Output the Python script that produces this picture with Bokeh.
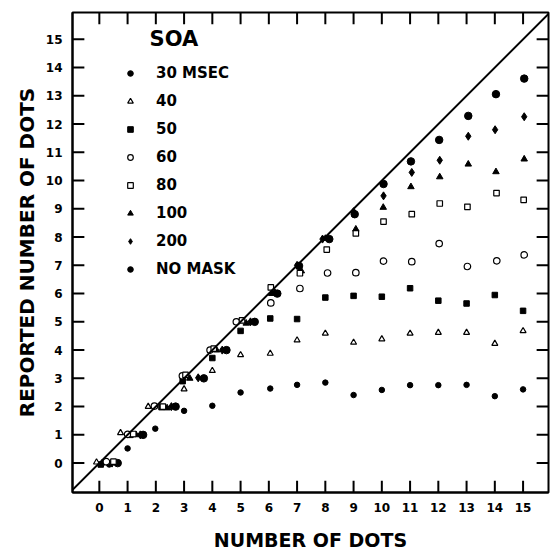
from bokeh.plotting import figure
from bokeh.models import Range1d, LinearAxis, FixedTicker, Slope, Legend, LegendItem, Label, ColumnDataSource
from bokeh.embed import file_html
from bokeh.resources import INLINE

# ---- data ----
ticks = list(range(16))

x_30 = [0.35, 1.0, 1.98, 3.0, 4.0, 5.0, 6.05, 7, 8, 9, 10, 11, 12, 13, 14, 15]
y_30 = [-0.05, 0.52, 1.22, 1.85, 2.03, 2.5, 2.64, 2.77, 2.85, 2.41, 2.59, 2.76, 2.76, 2.77, 2.37, 2.61]

x_40 = [-0.1, 0.75, 1.73, 3.0, 4.0, 5.0, 6.05, 7, 8, 9, 10, 11, 12, 13, 14, 15]
y_40 = [0.03, 1.07, 2.0, 2.62, 3.27, 3.83, 3.88, 4.35, 4.59, 4.27, 4.39, 4.59, 4.62, 4.62, 4.23, 4.68]

x_50 = [0.05, 1.1, 2.2, 2.95, 4.0, 5.0, 6.05, 7, 8, 9, 10, 11, 12, 13, 14, 15]
y_50 = [-0.05, 1.0, 1.98, 2.9, 3.72, 4.68, 5.12, 5.1, 5.86, 5.92, 5.89, 6.19, 5.75, 5.65, 5.95, 5.39]

x_60 = [0.25, 1.0, 1.95, 2.94, 3.92, 4.85, 6.07, 7.1, 8.08, 9.08, 10.06, 11.06, 12.03, 13.03, 14.07, 15.04]
y_60 = [0.05, 1.02, 2.02, 3.09, 4.0, 5.0, 5.67, 6.18, 6.73, 6.74, 7.15, 7.13, 7.77, 6.96, 7.16, 7.37]

x_80 = [0.5, 1.2, 2.25, 3.05, 4.05, 5.05, 6.07, 7.1, 8.05, 9.08, 10.06, 11.06, 12.05, 13.03, 14.06, 15.02]
y_80 = [0.05, 1.03, 2.0, 3.12, 4.05, 5.05, 6.22, 6.72, 7.56, 8.13, 8.55, 8.81, 9.19, 9.07, 9.56, 9.32]

x_100 = [0.1, 1.3, 2.4, 3.2, 4.15, 5.2, 6.1, 7.15, 8.0, 9.08, 10.05, 11.03, 12.05, 13.06, 14.04, 15.04]
y_100 = [0.0, 1.0, 1.95, 3.0, 4.0, 4.95, 6.0, 6.8, 7.95, 8.28, 9.05, 9.78, 10.13, 10.58, 10.31, 10.76]

x_200 = [0.45, 1.45, 2.55, 3.5, 4.35, 5.35, 6.2, 7.0, 7.9, 9.0, 10.06, 11.06, 12.05, 13.06, 14.01, 15.04]
y_200 = [0.0, 1.0, 2.0, 3.02, 4.0, 5.0, 6.05, 7.0, 7.93, 8.9, 9.46, 10.29, 10.72, 11.57, 11.8, 12.26]

x_nm = [0.65, 1.55, 2.7, 3.7, 4.5, 5.5, 6.3, 7.07, 8.14, 9.04, 10.06, 11.03, 12.03, 13.06, 14.04, 15.04]
y_nm = [0.0, 1.0, 2.0, 3.0, 4.0, 5.0, 6.0, 6.98, 7.93, 8.81, 9.88, 10.68, 11.44, 12.29, 13.06, 13.61]

labels = ["30 MSEC", "40", "50", "60", "80", "100", "200", "NO MASK"]

FONT = "DejaVu Sans"
X0, X1 = -0.95, 15.9
Y0, Y1 = -1.04, 15.95
TL = 0.42  # inward tick length in data units (~12 px)

p = figure(width=550, height=553,
           x_range=Range1d(X0, X1), y_range=Range1d(Y0, Y1),
           output_backend="svg", toolbar_location=None,
           min_border_left=72, min_border_top=12, min_border_right=2, min_border_bottom=61,
           x_axis_location=None, y_axis_location=None)
p.grid.visible = False
p.outline_line_color = "black"
p.outline_line_width = 2
p.background_fill_color = "white"
p.border_fill_color = "white"

def style_axis(ax):
    ax.ticker = FixedTicker(ticks=ticks)
    ax.major_tick_in = 0
    ax.major_tick_out = 0
    ax.minor_tick_line_color = None
    ax.axis_line_width = 2
    ax.axis_line_color = "black"
    ax.major_label_text_font = FONT
    ax.major_label_text_font_style = "bold"
    ax.major_label_text_font_size = "12px"
    ax.major_label_text_color = "black"
    ax.major_label_standoff = 10
    ax.axis_label_text_font = FONT
    ax.axis_label_text_font_style = "bold"
    ax.axis_label_text_color = "black"

xb = LinearAxis(axis_label="NUMBER OF DOTS")
style_axis(xb)
xb.axis_label_text_font_size = "19px"
xb.axis_label_standoff = 14
p.add_layout(xb, "below")

yl = LinearAxis(axis_label="REPORTED NUMBER OF DOTS")
style_axis(yl)
yl.axis_label_text_font_size = "20px"
yl.axis_label_standoff = 4
p.add_layout(yl, "left")

# inward tick marks on all four sides of the frame
n = len(ticks)
p.segment(x0=ticks, y0=[Y0] * n, x1=ticks, y1=[Y0 + TL] * n, line_color="black", line_width=2)
p.segment(x0=ticks, y0=[Y1] * n, x1=ticks, y1=[Y1 - TL] * n, line_color="black", line_width=2)
p.segment(x0=[X0] * n, y0=ticks, x1=[X0 + TL] * n, y1=ticks, line_color="black", line_width=2)
p.segment(x0=[X1] * n, y0=ticks, x1=[X1 - TL] * n, y1=ticks, line_color="black", line_width=2)

p.add_layout(Slope(gradient=1, y_intercept=0, line_color="black", line_width=2))

def src(x, y):
    return ColumnDataSource(dict(x=x, y=y))

# filled markers first, open markers on top
r_nm = p.scatter("x", "y", source=src(x_nm, y_nm), marker="circle", size=7.5,
                 fill_color="black", line_color="black")
r_200 = p.scatter("x", "y", source=src(x_200, y_200), marker="diamond", size=8,
                  fill_color="black", line_color="black")
r_100 = p.scatter("x", "y", source=src(x_100, y_100), marker="triangle", size=6.5,
                  fill_color="black", line_color="black")
r_50 = p.scatter("x", "y", source=src(x_50, y_50), marker="square", size=5.5,
                 fill_color="black", line_color="black")
r_30 = p.scatter("x", "y", source=src(x_30, y_30), marker="circle", size=5.5,
                 fill_color="black", line_color="black")
r_40 = p.scatter("x", "y", source=src(x_40, y_40), marker="triangle", size=6,
                 fill_color="white", line_color="black", line_width=1.2)
r_60 = p.scatter("x", "y", source=src(x_60, y_60), marker="circle", size=6.5,
                 fill_color="white", line_color="black", line_width=1.2)
r_80 = p.scatter("x", "y", source=src(x_80, y_80), marker="square", size=5.5,
                 fill_color="white", line_color="black", line_width=1.2)

renderers = [r_30, r_40, r_50, r_60, r_80, r_100, r_200, r_nm]
items = [LegendItem(label=lab, renderers=[r]) for lab, r in zip(labels, renderers)]
legend = Legend(items=items, location=(51, 213), orientation="vertical",
                border_line_color=None, background_fill_color=None, background_fill_alpha=0,
                padding=0, margin=0, spacing=8,
                glyph_width=14, glyph_height=14, label_height=20, label_standoff=19,
                label_text_font=FONT, label_text_font_style="bold",
                label_text_font_size="15px", label_text_color="black")
p.add_layout(legend)

p.add_layout(Label(x=2.64, y=15.02, text="SOA", text_align="center", text_baseline="middle",
                   text_font=FONT, text_font_style="bold", text_font_size="21px",
                   text_color="black"))

open("out.html", "w").write(file_html(p, INLINE))
